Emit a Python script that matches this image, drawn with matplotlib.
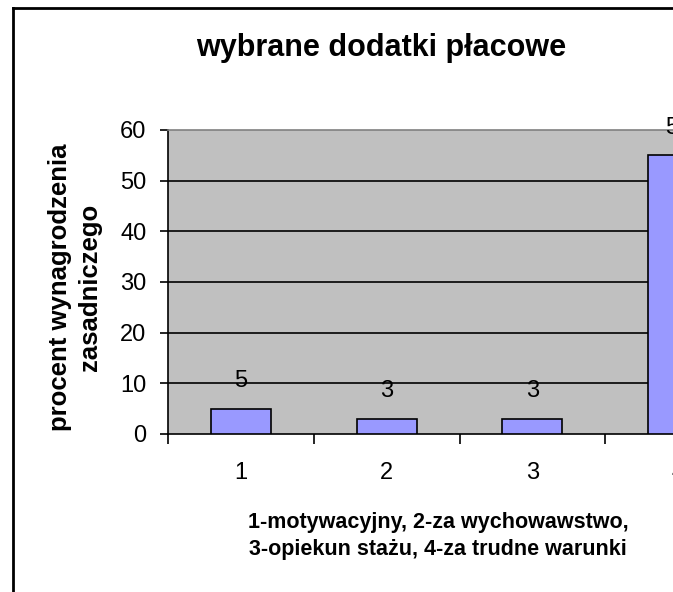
import matplotlib
matplotlib.use("Agg")
import matplotlib.pyplot as plt
from matplotlib.lines import Line2D

categories = ["1", "2", "3", "4"]
values = [5, 3, 3, 55]
yticks = [0, 10, 20, 30, 40, 50, 60]
title = "wybrane dodatki płacowe"
ylabel = "procent wynagrodzenia\nzasadniczego"
xlabel = "1-motywacyjny, 2-za wychowawstwo,\n3-opiekun stażu, 4-za trudne warunki"

plt.rcParams['font.family'] = ['Liberation Sans', 'DejaVu Sans']

W, H = 673, 592
fig = plt.figure(figsize=(W / 100, H / 100), dpi=100)

def fx(px):
    return px / W

def fy(py):
    return 1 - py / H

ax_l, ax_r, ax_t, ax_b = 168, 751, 130, 434
ax = fig.add_axes([fx(ax_l), fy(ax_b), fx(ax_r - ax_l), (ax_b - ax_t) / H])
ax.set_facecolor('#C0C0C0')

x = list(range(len(categories)))
bars = ax.bar(x, values, width=0.41, color='#9999FF', edgecolor='black', linewidth=1.2, zorder=3)
for xi, v in zip(x, values):
    ax.annotate(str(v), (xi, v), xytext=(0, 12), textcoords='offset points',
                ha='center', va='bottom', fontsize=17, zorder=4)

ax.set_xlim(-0.5, len(categories) - 0.5)
ax.set_ylim(0, 60)
ax.set_yticks(yticks)
ax.set_yticklabels([str(t) for t in yticks], fontsize=17)
ax.set_xticks(x)
ax.set_xticklabels(categories, fontsize=17)
ax.tick_params(axis='x', which='major', length=0, pad=20)
ax.set_xticks([i - 0.5 for i in range(len(categories) + 1)], minor=True)
ax.tick_params(axis='x', which='minor', length=7, width=1.2, direction='out')
ax.tick_params(axis='y', length=6, width=1.2, direction='out', pad=9.5)

for t in yticks[1:-1]:
    ax.axhline(t, color='black', linewidth=1.2, zorder=1)

ax.spines['left'].set_color('black')
ax.spines['left'].set_linewidth(1.2)
ax.spines['bottom'].set_color('black')
ax.spines['bottom'].set_linewidth(1.2)
ax.spines['top'].set_color('#808080')
ax.spines['top'].set_linewidth(1.2)
ax.spines['right'].set_color('#808080')

fig.text(fx(381), fy(48), title, ha='center', va='center', fontsize=22, fontweight='bold')
fig.text(fx(75), fy(287), ylabel, ha='center', va='center', rotation=90,
         fontsize=18.5, fontweight='bold', multialignment='center', linespacing=1.3)
fig.text(fx(438), fy(536), xlabel, ha='center', va='center', fontsize=15.5,
         fontweight='bold', multialignment='center', linespacing=1.4)

fig.add_artist(Line2D([fx(13), fx(13)], [0, fy(8)], color='black', linewidth=2,
                      transform=fig.transFigure))
fig.add_artist(Line2D([fx(13), 1.0], [fy(8), fy(8)], color='black', linewidth=2,
                      transform=fig.transFigure))

fig.savefig("out.png", dpi=100, facecolor='white')
